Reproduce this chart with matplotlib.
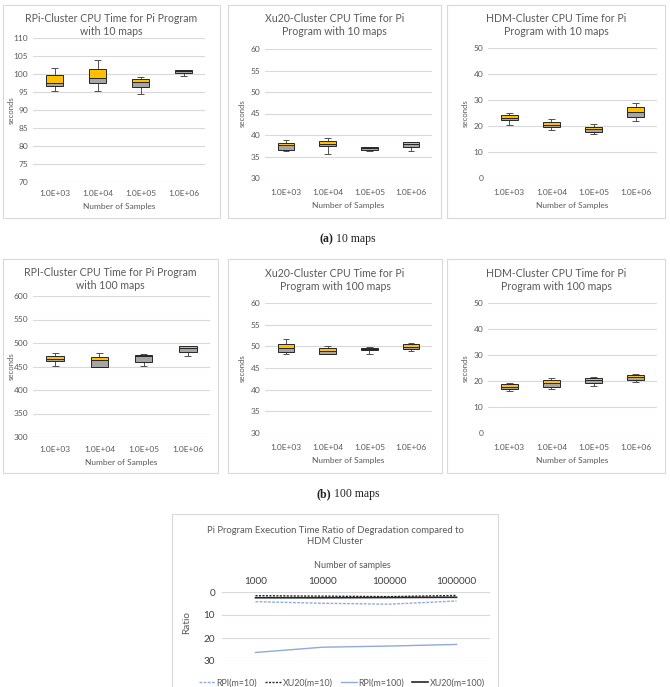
import numpy as np
import matplotlib.pyplot as plt
from matplotlib.patches import Rectangle

plt.rcParams['font.family'] = ['Lato', 'DejaVu Sans']

W, H = 670, 687
GOLD = '#FFC000'
GREY = '#A5A5A5'
TXT = '#595959'
GRID = '#D9D9D9'

samples = ['1.0E+03', '1.0E+04', '1.0E+05', '1.0E+06']

# box stats per panel: whisker low, Q1, median, Q3, whisker high
rpi10_lo = [95.2, 95.4, 94.5, 99.5]
rpi10_q1 = [96.6, 97.4, 96.4, 100.2]
rpi10_md = [97.5, 98.8, 97.8, 100.7]
rpi10_q3 = [99.8, 101.5, 98.6, 101.0]
rpi10_hi = [101.8, 103.8, 99.2, 101.0]

xu10_lo = [36.2, 35.5, 36.3, 36.3]
xu10_q1 = [36.5, 37.4, 36.6, 37.2]
xu10_md = [37.6, 37.9, 37.0, 38.0]
xu10_q3 = [38.2, 38.5, 37.3, 38.3]
xu10_hi = [38.8, 39.2, 37.3, 38.3]

hdm10_lo = [20.2, 18.5, 16.8, 22.0]
hdm10_q1 = [22.2, 19.8, 17.6, 23.5]
hdm10_md = [23.2, 20.3, 18.8, 25.4]
hdm10_q3 = [24.3, 21.5, 19.8, 27.3]
hdm10_hi = [25.0, 22.8, 20.8, 29.0]

rpi100_lo = [451, 448, 452, 472]
rpi100_q1 = [461, 449, 459, 480]
rpi100_md = [466, 463, 473, 490]
rpi100_q3 = [472, 471, 475, 493]
rpi100_hi = [478, 478, 477, 494]

xu100_lo = [48.3, 48.2, 48.2, 49.0]
xu100_q1 = [48.6, 48.3, 49.2, 49.3]
xu100_md = [49.6, 48.9, 49.4, 49.9]
xu100_q3 = [50.6, 49.5, 49.6, 50.5]
xu100_hi = [51.6, 50.0, 49.9, 50.8]

hdm100_lo = [16.0, 17.0, 18.2, 19.8]
hdm100_q1 = [16.8, 17.8, 19.2, 20.5]
hdm100_md = [17.6, 19.4, 20.2, 21.4]
hdm100_q3 = [18.8, 20.4, 21.0, 22.3]
hdm100_hi = [19.2, 21.2, 21.5, 22.8]

# ratio chart
ratio_x = ['1000', '10000', '100000', '1000000']
rpi_m10 = [4.2, 4.9, 5.3, 3.9]
xu_m10 = [1.6, 1.8, 2.0, 1.5]
rpi_m100 = [26.3, 24.0, 23.5, 22.8]
xu_m100 = [2.5, 2.5, 2.4, 2.3]

fig = plt.figure(figsize=(W / 100, H / 100), dpi=100)


def fx(x):
    return x / W


def fy(y):
    return 1 - y / H


def border(l, t, r, b):
    fig.patches.append(Rectangle((fx(l), fy(b)), fx(r - l), (b - t) / H,
                                 transform=fig.transFigure, fill=False,
                                 ec=GRID, lw=0.8))


def box_panel(bd, pa, title, ylim, step, stats, ty, tick_y, lab_y, ylab_x):
    border(*bd)
    l, t, r, b = pa
    ax = fig.add_axes([fx(l), fy(b), fx(r - l), (b - t) / H])
    lo, q1, md, q3, hi = stats
    x = np.arange(len(samples))
    w = 0.4
    ax.vlines(x, lo, hi, color='#505050', lw=0.7, zorder=2)
    ax.hlines(lo, x - 0.08, x + 0.08, color='#505050', lw=0.7, zorder=2)
    ax.hlines(hi, x - 0.08, x + 0.08, color='#505050', lw=0.7, zorder=2)
    ax.bar(x, np.array(md) - np.array(q1), w, bottom=q1, color=GREY,
           edgecolor='#262626', lw=0.7, zorder=3)
    ax.bar(x, np.array(q3) - np.array(md), w, bottom=md, color=GOLD,
           edgecolor='#262626', lw=0.7, zorder=3)
    ax.set_xlim(-0.5, 3.5)
    ax.set_ylim(*ylim)
    ax.set_yticks(np.arange(ylim[0], ylim[1] + step / 2, step))
    ax.set_xticks(x)
    ax.set_xticklabels(samples)
    ax.grid(axis='y', color=GRID, lw=0.8)
    ax.set_axisbelow(True)
    for s in ax.spines.values():
        s.set_visible(False)
    ax.tick_params(length=0, labelsize=6, labelcolor=TXT)
    ax.tick_params(axis='x', pad=(tick_y - b - 4) * 0.72)
    ax.tick_params(axis='y', pad=3.5)
    cx = (bd[0] + bd[2]) / 2
    fig.text(fx(cx), fy(ty), title, ha='center', va='center', fontsize=7.6,
             color=TXT, linespacing=1.25)
    fig.text(fx((l + r) / 2), fy(lab_y), 'Number of Samples', ha='center',
             va='center', fontsize=6, color=TXT)
    fig.text(fx(ylab_x), fy((t + b) / 2), 'seconds', ha='center', va='center',
             rotation=90, fontsize=5.6, color=TXT)
    return ax


box_panel((3, 5, 220, 218), (33, 38, 205, 182),
          'RPi-Cluster CPU Time for Pi Program\nwith 10 maps', (70, 110), 5,
          (rpi10_lo, rpi10_q1, rpi10_md, rpi10_q3, rpi10_hi), 25, 194, 207, 11)
box_panel((228, 5, 441, 218), (265, 49, 432, 178),
          'Xu20-Cluster CPU Time for Pi\nProgram with 10 maps', (30, 60), 5,
          (xu10_lo, xu10_q1, xu10_md, xu10_q3, xu10_hi), 25, 193, 205, 242)
box_panel((447, 5, 665, 218), (488, 48, 657, 178),
          'HDM-Cluster CPU Time for Pi\nProgram with 10 maps', (0, 50), 10,
          (hdm10_lo, hdm10_q1, hdm10_md, hdm10_q3, hdm10_hi), 25, 193, 205, 465)

box_panel((3, 259, 218, 473), (33, 296, 210, 437),
          'RPI-Cluster CPU Time for Pi Program\nwith 100 maps', (300, 600), 50,
          (rpi100_lo, rpi100_q1, rpi100_md, rpi100_q3, rpi100_hi), 279, 450, 463, 11)
box_panel((228, 259, 442, 473), (265, 303, 432, 433),
          'Xu20-Cluster CPU Time for Pi\nProgram with 100 maps', (30, 60), 5,
          (xu100_lo, xu100_q1, xu100_md, xu100_q3, xu100_hi), 280, 448, 460, 242)
box_panel((447, 259, 665, 473), (488, 303, 657, 433),
          'HDM-Cluster CPU Time for Pi\nProgram with 100 maps', (0, 50), 10,
          (hdm100_lo, hdm100_q1, hdm100_md, hdm100_q3, hdm100_hi), 280, 448, 460, 465)

# captions
serif = ['Liberation Serif', 'DejaVu Serif']
for cx, cy, tag, rest in [(333, 239, '(a)', ' 10 maps'), (331, 494, '(b)', ' 100 maps')]:
    fig.text(fx(cx), fy(cy), tag, ha='right', va='center', fontsize=8.5,
             family=serif, weight='bold', color='#222222')
    fig.text(fx(cx), fy(cy), rest, ha='left', va='center', fontsize=8.5,
             family=serif, color='#222222')

# ratio line chart
border(172, 514, 498, 690)
l, t, r, b = 222, 592, 490, 661
ax = fig.add_axes([fx(l), fy(b), fx(r - l), (b - t) / H])
xr = np.arange(len(ratio_x))
ax.plot(xr, rpi_m10, color='#8FAADC', lw=1.0, ls=(0, (2, 1)), label='RPI(m=10)')
ax.plot(xr, xu_m10, color='#262626', lw=1.0, ls=(0, (1.5, 1)), label='XU20(m=10)')
ax.plot(xr, rpi_m100, color='#8FAADC', lw=1.0, label='RPI(m=100)')
ax.plot(xr, xu_m100, color='#262626', lw=1.2, label='XU20(m=100)')
ax.set_xlim(-0.5, 3.5)
ax.set_ylim(30, 0)
ax.set_yticks([0, 10, 20, 30])
ax.set_xticks(xr)
ax.set_xticklabels(ratio_x)
ax.xaxis.tick_top()
ax.grid(axis='y', color=GRID, lw=0.8)
ax.set_axisbelow(True)
for s in ax.spines.values():
    s.set_visible(False)
ax.tick_params(length=0, labelsize=7.2, labelcolor='#404040')
ax.tick_params(axis='x', pad=4)
ax.tick_params(axis='y', pad=5)
fig.text(fx(335), fy(536), 'Pi Program Execution Time Ratio of Degradation compared to\nHDM Cluster',
         ha='center', va='center', fontsize=6.8, color=TXT, linespacing=1.4)
fig.text(fx(352), fy(565), 'Number of samples', ha='center', va='center',
         fontsize=6.5, color=TXT)
fig.text(fx(187), fy(622), 'Ratio', ha='center', va='center', rotation=90,
         fontsize=7.2, color=TXT)
fig.legend(loc='center', bbox_to_anchor=(fx(342), fy(683)), ncol=4, frameon=False,
           fontsize=6.4, handlelength=1.8, handletextpad=0.2, columnspacing=0.9,
           labelcolor=TXT)

fig.savefig('out.png', dpi=100)
